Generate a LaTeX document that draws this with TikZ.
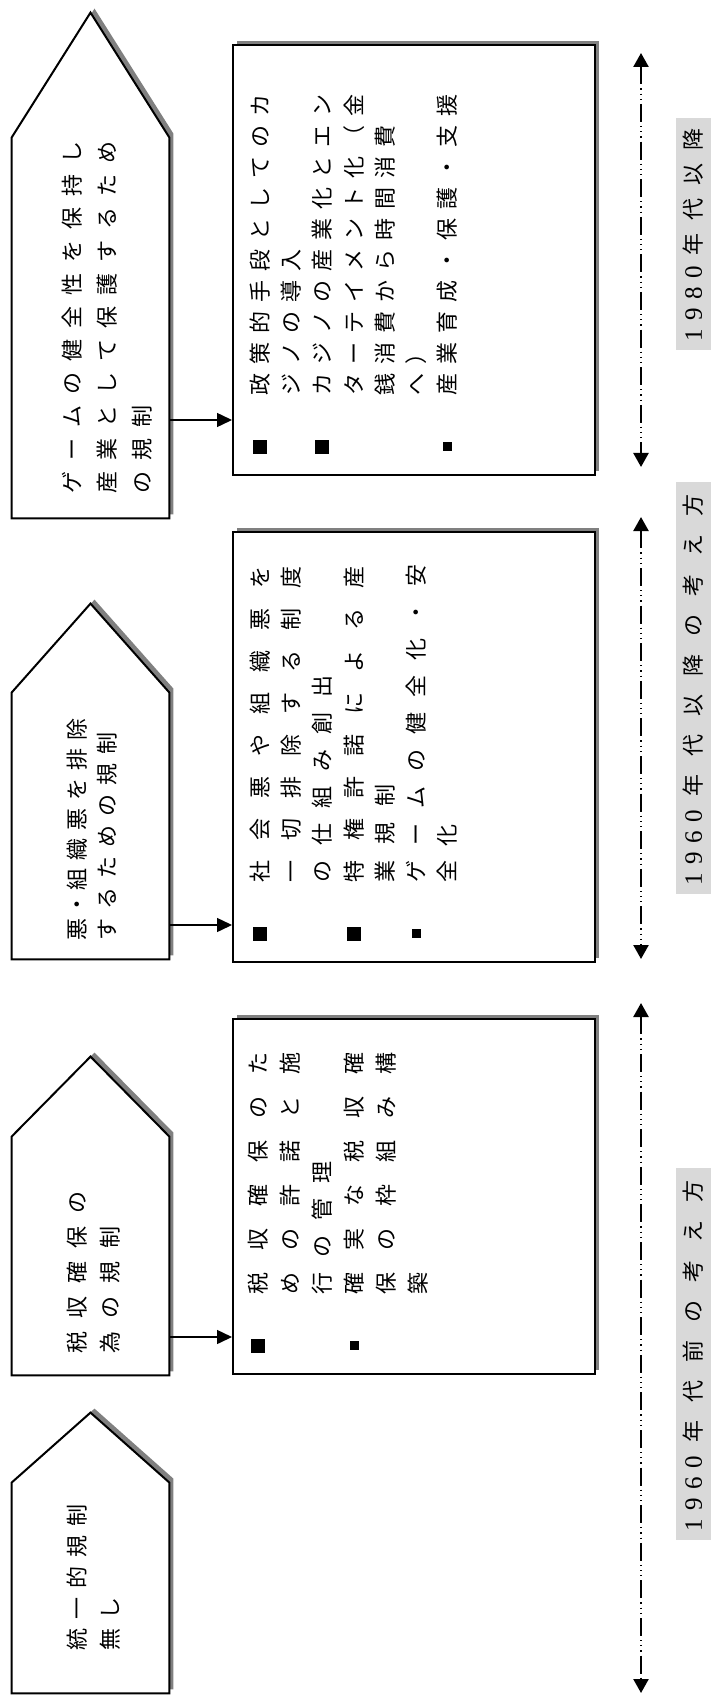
\documentclass[tikz,border=0pt]{standalone}
\usepackage{fontspec}
\setmainfont{Noto Sans CJK JP}
\newfontfamily\numfont{Liberation Serif}
\usetikzlibrary{arrows.meta, shadows}
\definecolor{shade}{HTML}{808080}
\definecolor{labfill}{HTML}{D9D9D9}

% one character per fixed-width slot
\newcommand\chrpitch{15pt}
\def\chrloop#1{\ifx#1\relax\else\hbox to\chrpitch{\hss#1\hss}\expandafter\chrloop\fi}
\newcommand\spread[2]{\def\chrpitch{#1}\chrloop#2\relax}
\newcommand\bigsq{\rule[0.7pt]{7pt}{7pt}}
\newcommand\smallsq{\rule[1.95pt]{4.5pt}{4.5pt}}
\newcommand\bline[3]{\hbox{\hbox to14pt{\hss#1\hss}\hskip\dimexpr24pt-#2/2\relax\spread{#2}{#3}}}
\newcommand\tline[2]{\hbox{\spread{#1}{#2}}}
\newcommand\colstack[2]{\vtop{\baselineskip=#1\lineskiplimit=-\maxdimen#2}}
\newcommand\yr[1]{{\numfont\fontsize{12.5pt}{14pt}\selectfont\spread{10.5pt}{#1}}}

\tikzset{
  plate/.style={draw, line width=1pt, fill=white,
    drop shadow={shadow xshift=2pt, shadow yshift=2pt, fill=shade, opacity=1}},
  platebody/.style={inner sep=0pt, minimum width=78.5pt},
  note/.style={plate, inner sep=0pt, minimum width=181pt},
  vtext/.style={rotate=90, anchor=base west, inner sep=0pt, font=\fontsize{11pt}{13pt}\selectfont},
  link/.style={-{Triangle[length=7.5pt,width=7pt]}, line width=0.75pt},
  era/.style={{Triangle[length=7pt,width=7.5pt]}-{Triangle[length=7pt,width=7.5pt]}, line width=1.2pt,
    dash pattern=on 9pt off 2pt on 0.6pt off 2pt on 0.6pt off 2pt on 0.6pt off 2pt},
  eralab/.style={rotate=90, anchor=west, fill=labfill, inner xsep=2pt, inner ysep=3.25pt,
    text height=9.7pt, text depth=1.3pt, font=\fontsize{11pt}{13pt}\selectfont},
}

\begin{document}
\begin{tikzpicture}[x=0.5pt, y=-0.5pt]
\useasboundingbox (0,0) rectangle (723,1695);

% ── policy plates (left) ───────────────────────────────────────
\node[platebody, minimum height=190pt] (g1) at (90.5,328) {};
\node[platebody, minimum height=133pt] (g2) at (90.5,826) {};
\node[platebody, minimum height=119pt] (g3) at (90.5,1256) {};
\node[platebody, minimum height=105pt] (g4) at (90.5,1588) {};
\draw[plate] (g1.south west) -- (g1.north west) -- ([yshift=62.5pt]g1.north) -- (g1.north east) -- (g1.south east) -- cycle;
\draw[plate] (g2.south west) -- (g2.north west) -- ([yshift=44.5pt]g2.north) -- (g2.north east) -- (g2.south east) -- cycle;
\draw[plate] (g3.south west) -- (g3.north west) -- ([yshift=40pt]g3.north) -- (g3.north east) -- (g3.south east) -- cycle;
\draw[plate] (g4.south west) -- (g4.north west) -- ([yshift=35pt]g4.north) -- (g4.north east) -- (g4.south east) -- cycle;

\node[vtext] (n1) at (80.4,499.5) {\colstack{17.5pt}{%
  \tline{16.5pt}{ゲームの健全性を保持し}
  \tline{16.5pt}{産業として保護するため}
  \tline{16.5pt}{の規制}}};
\node[vtext] (n2) at (85.4,945) {\colstack{15pt}{%
  \hbox{\spread{15pt}{悪}\spread{10pt}{・}\spread{15pt}{組織悪を排除}}
  \tline{15.5pt}{するための規制}}};
\node[vtext] (n3) at (85.4,1360.5) {\colstack{16.5pt}{%
  \tline{17.5pt}{税収確保の}
  \tline{17.5pt}{為の規制}}};
\node[vtext] (n4) at (85.4,1655.5) {\colstack{16.5pt}{%
  \tline{15.5pt}{統一的規制}
  \tline{15.5pt}{無し}}};

% ── detail boxes (middle) ──────────────────────────────────────
\node[note, minimum height=215pt]   (b1) at (414,260) {};
\node[note, minimum height=215pt]   (b2) at (414,747) {};
\node[note, minimum height=177.5pt] (b3) at (414,1196.5) {};

\node[vtext] (t1) at (268.4,461) {\colstack{15.6pt}{%
  \bline{\bigsq}{15.5pt}{政策的手段としてのカ}
  \bline{}{15.5pt}{ジノの導入}
  \bline{\bigsq}{15.5pt}{カジノの産業化とエン}
  \bline{}{15.5pt}{ターテイメント化（金}
  \bline{}{15.5pt}{銭消費から時間消費}
  \bline{}{15.5pt}{へ）}
  \bline{\smallsq}{15.5pt}{産業育成・保護・支援}}};
\node[vtext] (t2) at (268.4,948) {\colstack{15.6pt}{%
  \bline{\bigsq}{21pt}{社会悪や組織悪を}
  \bline{}{21pt}{一切排除する制度}
  \bline{}{18.5pt}{の仕組み創出}
  \bline{\bigsq}{21pt}{特権許諾による産}
  \bline{}{19pt}{業規制}
  \bline{\smallsq}{18.5pt}{ゲームの健全化・安}
  \bline{}{18pt}{全化}}};
\node[vtext] (t3) at (266.4,1360) {\colstack{16pt}{%
  \bline{\bigsq}{22pt}{税収確保のた}
  \bline{}{22pt}{めの許諾と施}
  \bline{}{18.5pt}{行の管理}
  \bline{\smallsq}{22pt}{確実な税収確}
  \bline{}{22pt}{保の枠組み構}
  \bline{}{22pt}{築}}};

% ── plate -> box links ─────────────────────────────────────────
\coordinate (a1) at (0,420);
\coordinate (a2) at (0,925);
\coordinate (a3) at (0,1337);
\draw[link] (g1.east |- a1) -- (b1.west |- a1);
\draw[link] (g2.east |- a2) -- (b2.west |- a2);
\draw[link] (g3.east |- a3) -- (b3.west |- a3);

% ── era spans (right) ──────────────────────────────────────────
\coordinate (e1a) at (641,53);
\coordinate (e1b) at (641,467);
\coordinate (e2a) at (641,517);
\coordinate (e2b) at (641,959);
\coordinate (e3a) at (641,1003);
\coordinate (e3b) at (641,1693);
\draw[era] (e1a) -- (e1b);
\draw[era] (e2a) -- (e2b);
\draw[era] (e3a) -- (e3b);

\node[eralab] (l1) at (693.5,350)  {\yr{1980}\spread{17.5pt}{年代以降}};
\node[eralab] (l2) at (693.5,894)  {\yr{1960}\spread{20pt}{年代以降の考え方}};
\node[eralab] (l3) at (693.5,1540) {\yr{1960}\spread{20pt}{年代前の考え方}};

\end{tikzpicture}
\end{document}
